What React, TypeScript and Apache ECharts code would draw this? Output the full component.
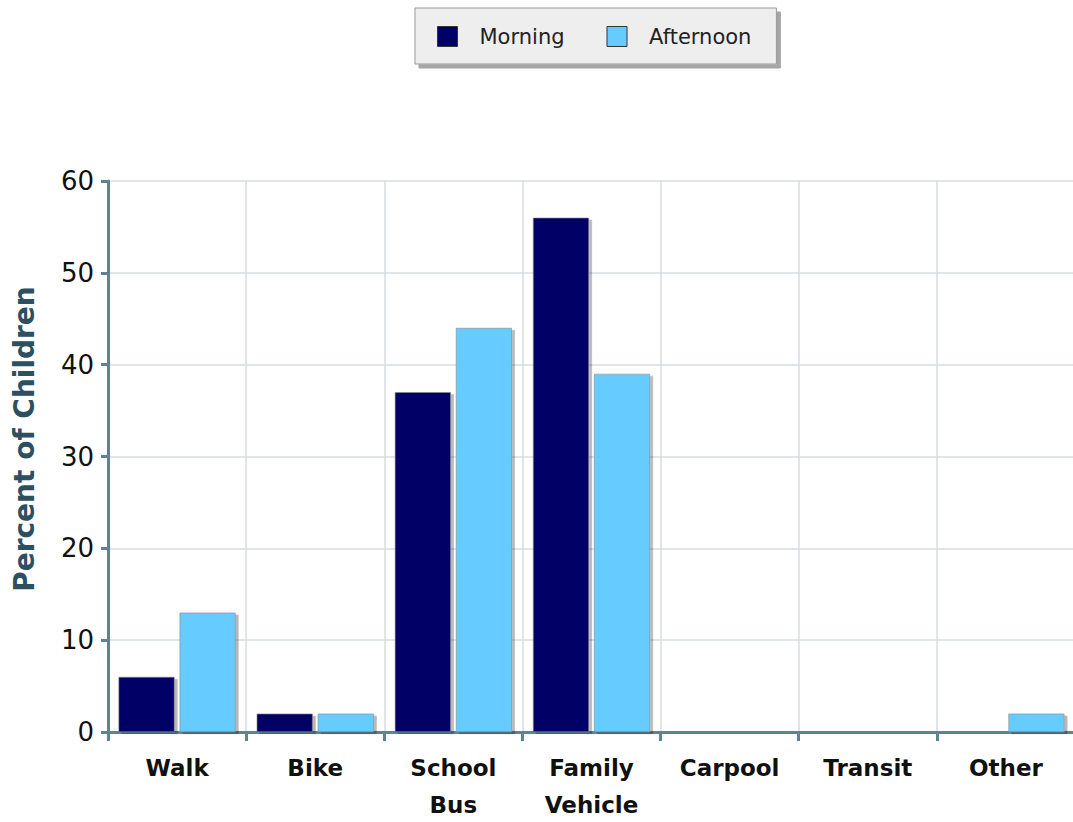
import React, { useEffect, useRef } from "react";
import * as echarts from "echarts";

const categories = ["Walk", "Bike", "School\nBus", "Family\nVehicle", "Carpool", "Transit", "Other"];
const morning = [6, 2, 37, 56, 0, 0, 0];
const afternoon = [13, 2, 44, 39, 0, 0, 2];
const seriesNames = ["Morning", "Afternoon"];
const yTicks = { min: 0, max: 60, interval: 10 };
const yAxisTitle = "Percent of Children";

const FONT = "DejaVu Sans";

export default function App() {
  const ref = useRef<HTMLDivElement>(null);
  useEffect(() => {
    if (!ref.current) return;
    const chart = echarts.init(ref.current, undefined, { renderer: "svg" });
    const barStyle = (color: string) => ({
      color,
      borderColor: "#888888",
      borderWidth: 0.6,
      shadowColor: "rgba(0,0,0,0.28)",
      shadowOffsetX: 3,
      shadowOffsetY: 2,
      shadowBlur: 0,
    });
    chart.setOption({
      animation: false,
      backgroundColor: "#ffffff",
      textStyle: { fontFamily: FONT },
      legend: {
        left: 415,
        top: 8,
        orient: "horizontal",
        backgroundColor: "#eeeeee",
        borderColor: "#999999",
        borderWidth: 1,
        padding: [18, 25, 17, 22],
        itemGap: 42,
        itemWidth: 20,
        itemHeight: 20,
        icon: "rect",
        shadowColor: "rgba(0,0,0,0.35)",
        shadowOffsetX: 4,
        shadowOffsetY: 4,
        shadowBlur: 0,
        textStyle: {
          fontFamily: FONT,
          fontSize: 21,
          color: "#222222",
          padding: [0, 0, 0, 17],
        },
        data: seriesNames.map((n) => ({
          name: n,
          itemStyle: { borderColor: "#333333", borderWidth: 1, shadowBlur: 0, shadowOffsetX: 0, shadowOffsetY: 0, shadowColor: "transparent" },
        })),
      },
      graphic: [
        {
          type: "text",
          x: 24,
          y: 439,
          rotation: Math.PI / 2,
          style: {
            text: yAxisTitle,
            fontFamily: FONT,
            fontSize: 28,
            fontWeight: "bold",
            fill: "#2c5062",
            align: "center",
            verticalAlign: "middle",
          },
        },
      ],
      grid: { left: 108, width: 967, top: 181, height: 551, containLabel: false, outerBoundsMode: "none" },
      xAxis: {
        type: "category",
        data: categories,
        axisLine: { lineStyle: { color: "#5b8494", width: 3 } },
        axisTick: { show: true, inside: false, length: 9, lineStyle: { color: "#5b8494", width: 3 } },
        splitLine: { show: true, interval: 0, lineStyle: { color: "#d5dde0", width: 1.5 } },
        axisLabel: {
          interval: 0,
          margin: 17,
          fontFamily: FONT,
          fontSize: 23,
          fontWeight: "bold",
          color: "#111111",
          lineHeight: 37,
        },
      },
      yAxis: {
        type: "value",
        min: yTicks.min,
        max: yTicks.max,
        interval: yTicks.interval,
        axisLine: { show: true, lineStyle: { color: "#5b8494", width: 3 } },
        axisTick: { show: true, inside: false, length: 7, lineStyle: { color: "#5b8494", width: 3 } },
        splitLine: { show: true, lineStyle: { color: "#d5dde0", width: 1.5 } },
        axisLabel: { margin: 14, fontFamily: FONT, fontSize: 26, color: "#111111" },
      },
      series: [
        {
          name: seriesNames[0],
          type: "bar",
          data: morning,
          barWidth: 56,
          barGap: "9%",
          itemStyle: barStyle("#000066"),
        },
        {
          name: seriesNames[1],
          type: "bar",
          data: afternoon,
          barWidth: 56,
          barGap: "9%",
          itemStyle: barStyle("#66ccff"),
        },
      ],
    });
    return () => chart.dispose();
  }, []);
  return (
    <div style={{ position: "absolute", left: 0, top: 0, width: 1073, height: 822, overflow: "hidden" }}>
      <div ref={ref} style={{ width: 1073, height: 822 }} />
    </div>
  );
}
